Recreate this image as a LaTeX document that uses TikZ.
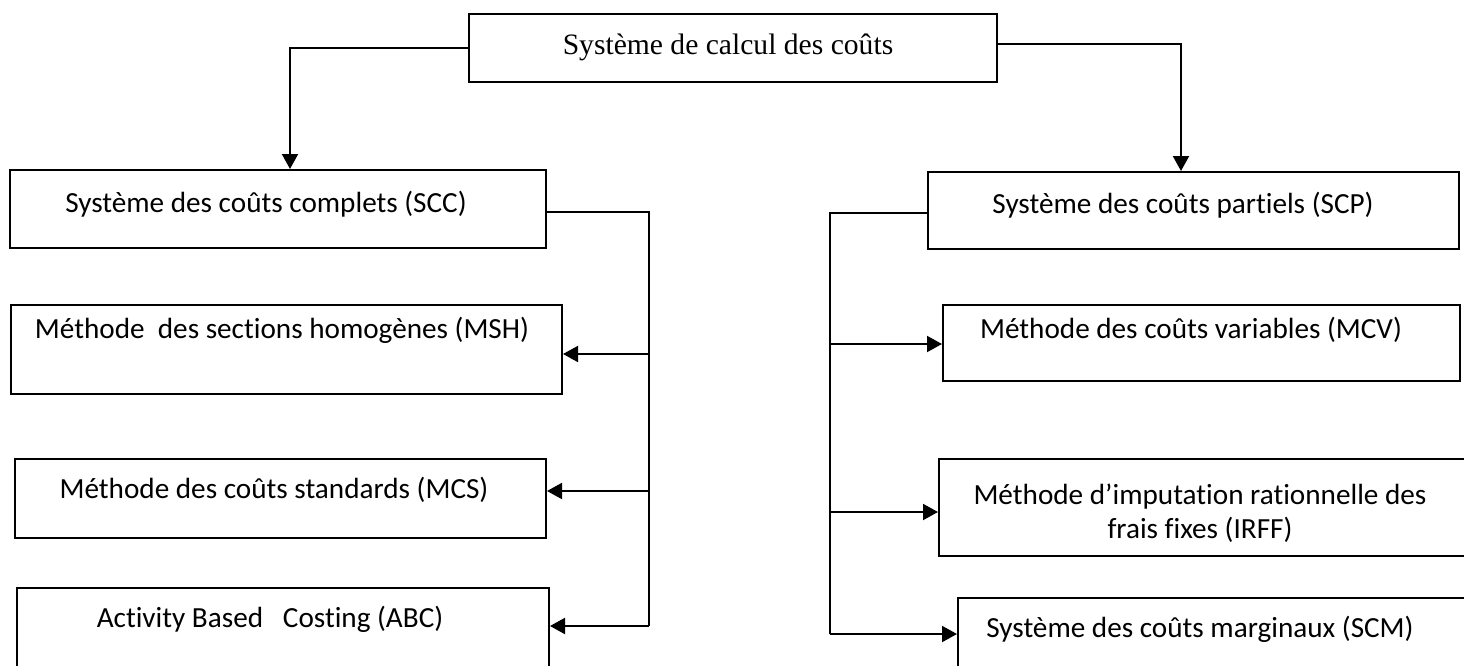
\documentclass[tikz,border=0pt]{standalone}
\usepackage{fontspec}
\setmainfont[Ligatures={NoCommon}]{Carlito}
\newfontfamily\timesfont{Liberation Serif}
\usetikzlibrary{arrows.meta}
\begin{document}
\begin{tikzpicture}[x=0.5pt,y=-0.5pt,
  box/.style={draw, line width=1pt, inner sep=0pt, anchor=north west},
  lbl/.style={font=\fontsize{14.6}{17}\selectfont, inner sep=0pt, align=center},
  wire/.style={line width=1pt},
  arr/.style={wire, -{Triangle[length=7.5pt,width=8pt]}}]
\useasboundingbox (0,0) rectangle (1464,665);

% boxes
\node[box, minimum width=264pt, minimum height=34pt] (top) at (468,13) {};
\node[box, minimum width=268pt, minimum height=39pt] (scc) at (9,169) {};
\node[box, minimum width=275.5pt, minimum height=44.5pt] (msh) at (10,304) {};
\node[box, minimum width=265.5pt, minimum height=39.5pt] (mcs) at (14,458) {};
\node[box, minimum width=266pt, minimum height=50pt] (abc) at (16,587) {};
\node[box, minimum width=265.5pt, minimum height=38.5pt] (scp) at (927,171) {};
\node[box, minimum width=258.5pt, minimum height=38pt] (mcv) at (942,304) {};
\node[box, minimum width=270pt, minimum height=48.5pt] (irff) at (938,458) {};
\node[box, minimum width=260pt, minimum height=45pt] (scm) at (957,597) {};

% texts
\node[lbl, font=\timesfont\fontsize{14.8}{17}\selectfont] (ttop) at (728,47) {Système de calcul des coûts};
\node[lbl] (tscc) at (266,204) {Système des coûts complets (SCC)};
\node[lbl] (tmsh) at (282,330) {Méthode\ \ des sections homogènes (MSH)};
\node[lbl] (tmcs) at (274,490) {Méthode des coûts standards (MCS)};
\node[lbl] (tabc) at (270,619) {Activity Based\ \ \ Costing (ABC)};
\node[lbl] (tscp) at (1183,205) {Système des coûts partiels (SCP)};
\node[lbl] (tmcv) at (1191,330) {Méthode des coûts variables (MCV)};
\node[lbl] (tirff) at (1200,513) {Méthode d’imputation rationnelle des\\frais fixes (IRFF)};
\node[lbl] (tscm) at (1200,629) {Système des coûts marginaux (SCM)};

% connectors
\coordinate (lx) at (290,0);
\coordinate (rx) at (1181,0);
\coordinate (bl) at (649,0);
\coordinate (br) at (830,0);

\draw[arr] (top.west) -| (lx |- scc.north);
\draw[arr] ([yshift=2pt]top.east) -| (rx |- scp.north);

\draw[wire] ([yshift=-1.5pt]scc.east) -| (bl |- 0,626);
\draw[arr] (bl |- 0,354) -- (msh.east |- 0,354);
\draw[arr] (bl |- 0,491) -- (mcs.east |- 0,491);
\draw[arr] (bl |- 0,626) -- (abc.east |- 0,626);

\draw[wire] ([yshift=-1pt]scp.west) -| (br |- 0,634);
\draw[arr] (br |- 0,344) -- (mcv.west |- 0,344);
\draw[arr] (br |- 0,512) -- (irff.west |- 0,512);
\draw[arr] (br |- 0,634) -- (scm.west |- 0,634);
\end{tikzpicture}
\end{document}
